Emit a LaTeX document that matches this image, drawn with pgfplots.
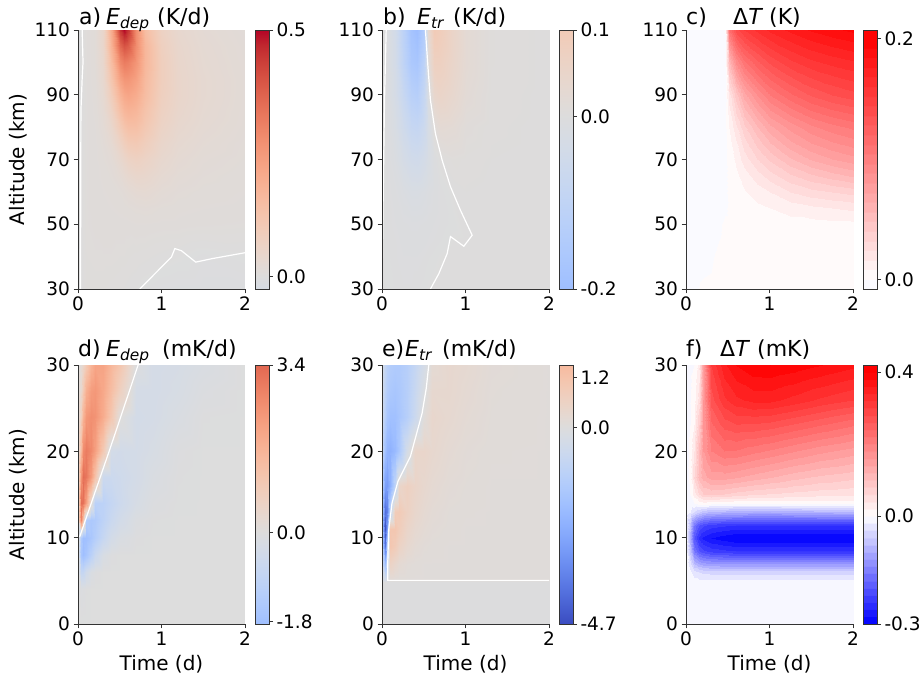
\documentclass[border=0pt]{standalone}
\usepackage{fontspec}
\setmainfont{DejaVu Sans}
\usepackage{pgfplots}
\pgfplotsset{compat=1.18}

\pgfplotsset{
 colormap={cwA}{rgb(475pt)=(0.840,0.861,0.894) rgb(500pt)=(0.865,0.865,0.865) rgb(531.25pt)=(0.898,0.849,0.821) rgb(562.5pt)=(0.924,0.827,0.775) rgb(593.75pt)=(0.944,0.801,0.727) rgb(625pt)=(0.959,0.770,0.678) rgb(656.25pt)=(0.967,0.734,0.629) rgb(687.5pt)=(0.970,0.694,0.579) rgb(718.75pt)=(0.967,0.650,0.530) rgb(750pt)=(0.958,0.603,0.482) rgb(781.25pt)=(0.944,0.552,0.434) rgb(812.5pt)=(0.924,0.497,0.388) rgb(843.75pt)=(0.899,0.440,0.343) rgb(875pt)=(0.869,0.378,0.300) rgb(906.25pt)=(0.835,0.313,0.259) rgb(937.5pt)=(0.796,0.241,0.221) rgb(968.75pt)=(0.753,0.157,0.184) rgb(1000pt)=(0.706,0.016,0.150)},
 colormap={cwB}{rgb(300pt)=(0.622,0.746,0.999) rgb(312.5pt)=(0.639,0.760,0.998) rgb(343.75pt)=(0.681,0.789,0.990) rgb(375pt)=(0.722,0.814,0.977) rgb(406.25pt)=(0.761,0.834,0.957) rgb(437.5pt)=(0.799,0.850,0.932) rgb(468.75pt)=(0.833,0.860,0.901) rgb(500pt)=(0.865,0.865,0.865) rgb(531.25pt)=(0.898,0.849,0.821) rgb(562.5pt)=(0.924,0.827,0.775) rgb(593.75pt)=(0.944,0.801,0.727) rgb(600pt)=(0.947,0.795,0.717)},
 colormap={cwD}{rgb(303.2pt)=(0.626,0.750,0.999) rgb(312.5pt)=(0.639,0.760,0.998) rgb(343.75pt)=(0.681,0.789,0.990) rgb(375pt)=(0.722,0.814,0.977) rgb(406.25pt)=(0.761,0.834,0.957) rgb(437.5pt)=(0.799,0.850,0.932) rgb(468.75pt)=(0.833,0.860,0.901) rgb(500pt)=(0.865,0.865,0.865) rgb(531.25pt)=(0.898,0.849,0.821) rgb(562.5pt)=(0.924,0.827,0.775) rgb(593.75pt)=(0.944,0.801,0.727) rgb(625pt)=(0.959,0.770,0.678) rgb(656.25pt)=(0.967,0.734,0.629) rgb(687.5pt)=(0.970,0.694,0.579) rgb(718.75pt)=(0.967,0.650,0.530) rgb(750pt)=(0.958,0.603,0.482) rgb(781.25pt)=(0.944,0.552,0.434) rgb(812.5pt)=(0.924,0.497,0.388) rgb(843.75pt)=(0.899,0.440,0.343) rgb(861.7pt)=(0.882,0.404,0.318)},
 colormap={cwE}{rgb(0pt)=(0.230,0.299,0.754) rgb(31.25pt)=(0.266,0.353,0.801) rgb(62.5pt)=(0.304,0.407,0.845) rgb(93.75pt)=(0.343,0.459,0.884) rgb(125pt)=(0.383,0.509,0.917) rgb(156.25pt)=(0.424,0.558,0.946) rgb(187.5pt)=(0.467,0.605,0.968) rgb(218.75pt)=(0.510,0.648,0.985) rgb(250pt)=(0.553,0.689,0.995) rgb(281.25pt)=(0.596,0.726,1.000) rgb(312.5pt)=(0.639,0.760,0.998) rgb(343.75pt)=(0.681,0.789,0.990) rgb(375pt)=(0.722,0.814,0.977) rgb(406.25pt)=(0.761,0.834,0.957) rgb(437.5pt)=(0.799,0.850,0.932) rgb(468.75pt)=(0.833,0.860,0.901) rgb(500pt)=(0.865,0.865,0.865) rgb(531.25pt)=(0.898,0.849,0.821) rgb(562.5pt)=(0.924,0.827,0.775) rgb(593.75pt)=(0.944,0.801,0.727) rgb(625pt)=(0.959,0.770,0.678) rgb(656.25pt)=(0.967,0.734,0.629) rgb(659.6pt)=(0.968,0.730,0.623)},
 colormap={bwrC}{rgb(0pt)=(0.98,0.98,1) rgb(7.99pt)=(0.98,0.98,1)
  rgb(8pt)=(1,0.98,0.98) rgb(15.99pt)=(1,0.98,0.98) rgb(16pt)=(1,0.94,0.94) rgb(23.99pt)=(1,0.94,0.94)
  rgb(24pt)=(1,0.90,0.90) rgb(31.99pt)=(1,0.90,0.90) rgb(32pt)=(1,0.86,0.86) rgb(39.99pt)=(1,0.86,0.86)
  rgb(40pt)=(1,0.82,0.82) rgb(47.99pt)=(1,0.82,0.82) rgb(48pt)=(1,0.78,0.78) rgb(55.99pt)=(1,0.78,0.78)
  rgb(56pt)=(1,0.74,0.74) rgb(63.99pt)=(1,0.74,0.74) rgb(64pt)=(1,0.70,0.70) rgb(71.99pt)=(1,0.70,0.70)
  rgb(72pt)=(1,0.66,0.66) rgb(79.99pt)=(1,0.66,0.66) rgb(80pt)=(1,0.62,0.62) rgb(87.99pt)=(1,0.62,0.62)
  rgb(88pt)=(1,0.58,0.58) rgb(95.99pt)=(1,0.58,0.58) rgb(96pt)=(1,0.54,0.54) rgb(103.99pt)=(1,0.54,0.54)
  rgb(104pt)=(1,0.50,0.50) rgb(111.99pt)=(1,0.50,0.50) rgb(112pt)=(1,0.46,0.46) rgb(119.99pt)=(1,0.46,0.46)
  rgb(120pt)=(1,0.42,0.42) rgb(127.99pt)=(1,0.42,0.42) rgb(128pt)=(1,0.38,0.38) rgb(135.99pt)=(1,0.38,0.38)
  rgb(136pt)=(1,0.34,0.34) rgb(143.99pt)=(1,0.34,0.34) rgb(144pt)=(1,0.30,0.30) rgb(151.99pt)=(1,0.30,0.30)
  rgb(152pt)=(1,0.26,0.26) rgb(159.99pt)=(1,0.26,0.26) rgb(160pt)=(1,0.22,0.22) rgb(167.99pt)=(1,0.22,0.22)
  rgb(168pt)=(1,0.18,0.18) rgb(175.99pt)=(1,0.18,0.18) rgb(176pt)=(1,0.14,0.14) rgb(183.99pt)=(1,0.14,0.14)
  rgb(184pt)=(1,0.10,0.10) rgb(191.99pt)=(1,0.10,0.10) rgb(192pt)=(1,0.06,0.06) rgb(199.99pt)=(1,0.06,0.06)
  rgb(200pt)=(1,0.02,0.02) rgb(215pt)=(1,0.02,0.02)},
 colormap={bwrF}{rgb(0pt)=(0.033,0.033,1) rgb(19.99pt)=(0.033,0.033,1) rgb(20pt)=(0.100,0.100,1) rgb(39.99pt)=(0.100,0.100,1)
  rgb(40pt)=(0.167,0.167,1) rgb(59.99pt)=(0.167,0.167,1) rgb(60pt)=(0.233,0.233,1) rgb(79.99pt)=(0.233,0.233,1)
  rgb(80pt)=(0.300,0.300,1) rgb(99.99pt)=(0.300,0.300,1) rgb(100pt)=(0.367,0.367,1) rgb(119.99pt)=(0.367,0.367,1)
  rgb(120pt)=(0.433,0.433,1) rgb(139.99pt)=(0.433,0.433,1) rgb(140pt)=(0.500,0.500,1) rgb(159.99pt)=(0.500,0.500,1)
  rgb(160pt)=(0.567,0.567,1) rgb(179.99pt)=(0.567,0.567,1) rgb(180pt)=(0.633,0.633,1) rgb(199.99pt)=(0.633,0.633,1)
  rgb(200pt)=(0.700,0.700,1) rgb(219.99pt)=(0.700,0.700,1) rgb(220pt)=(0.767,0.767,1) rgb(239.99pt)=(0.767,0.767,1)
  rgb(240pt)=(0.833,0.833,1) rgb(259.99pt)=(0.833,0.833,1) rgb(260pt)=(0.900,0.900,1) rgb(279.99pt)=(0.900,0.900,1)
  rgb(280pt)=(0.967,0.967,1) rgb(299.99pt)=(0.967,0.967,1)
  rgb(300pt)=(1,0.975,0.975) rgb(319.99pt)=(1,0.975,0.975) rgb(320pt)=(1,0.925,0.925) rgb(339.99pt)=(1,0.925,0.925)
  rgb(340pt)=(1,0.875,0.875) rgb(359.99pt)=(1,0.875,0.875) rgb(360pt)=(1,0.825,0.825) rgb(379.99pt)=(1,0.825,0.825)
  rgb(380pt)=(1,0.775,0.775) rgb(399.99pt)=(1,0.775,0.775) rgb(400pt)=(1,0.725,0.725) rgb(419.99pt)=(1,0.725,0.725)
  rgb(420pt)=(1,0.675,0.675) rgb(439.99pt)=(1,0.675,0.675) rgb(440pt)=(1,0.625,0.625) rgb(459.99pt)=(1,0.625,0.625)
  rgb(460pt)=(1,0.575,0.575) rgb(479.99pt)=(1,0.575,0.575) rgb(480pt)=(1,0.525,0.525) rgb(499.99pt)=(1,0.525,0.525)
  rgb(500pt)=(1,0.475,0.475) rgb(519.99pt)=(1,0.475,0.475) rgb(520pt)=(1,0.425,0.425) rgb(539.99pt)=(1,0.425,0.425)
  rgb(540pt)=(1,0.375,0.375) rgb(559.99pt)=(1,0.375,0.375) rgb(560pt)=(1,0.325,0.325) rgb(579.99pt)=(1,0.325,0.325)
  rgb(580pt)=(1,0.275,0.275) rgb(599.99pt)=(1,0.275,0.275) rgb(600pt)=(1,0.225,0.225) rgb(619.99pt)=(1,0.225,0.225)
  rgb(620pt)=(1,0.175,0.175) rgb(639.99pt)=(1,0.175,0.175) rgb(640pt)=(1,0.125,0.125) rgb(659.99pt)=(1,0.125,0.125)
  rgb(660pt)=(1,0.075,0.075) rgb(679.99pt)=(1,0.075,0.075) rgb(680pt)=(1,0.025,0.025) rgb(699.99pt)=(1,0.025,0.025)
  rgb(700pt)=(1,0,0) rgb(720pt)=(1,0,0)},
}

\pgfplotsset{
 panel/.style={
  scale only axis, width=167pt, height=259pt,
  xmin=0, xmax=2, xtick={0,1,2},
  axis x line*=bottom, axis y line*=left,
  tick align=outside, major tick length=4.5pt,
  xtick pos=left, ytick pos=left,
  ticklabel style={font=\fontsize{18.5}{22}\selectfont},
  /pgf/number format/assume math mode=true,
  axis line style={black!80, line width=0.8pt},
  every tick/.style={black!80, line width=0.8pt},
  axis on top,
  colorbar,
  colorbar shift/.style={xshift=10.5pt},
  colorbar style={
   at={(parent axis.north east)}, anchor=north west,
   scale only axis, width=13.5pt, height=259pt,
   axis x line=box, axis y line=box,
   tick align=outside, major tick length=4pt,
   ytick pos=right, yticklabel pos=right,
   yticklabel style={font=\fontsize{18.5}{22}\selectfont},
   /pgf/number format/assume math mode=true,
   axis line style={black!80, line width=0.8pt},
   every tick/.style={black!80, line width=0.8pt},
  },
 },
 xlab/.style={xlabel={Time (d)}, xlabel style={font=\fontsize{20}{24}\selectfont, at={(axis description cs:0.5,-0.1544)}, anchor=center}},
 ylab/.style={ylabel={Altitude (km)}, ylabel style={font=\fontsize{20}{24}\selectfont, at={(axis description cs:-0.356,0.5)}, anchor=center}},
 field/.style={surf, shader=interp, point meta=explicit},
 zline/.style={white, line width=1.2pt, no markers},
}

\newcommand{\sub}[1]{\raisebox{-4pt}{\fontsize{15.4}{16}\selectfont\itshape #1}}

\begin{document}
\begin{tikzpicture}

% ---------------- a ----------------
\begin{axis}[panel, ylab, at={(78pt,390pt)}, anchor=south west,
  ymin=30, ymax=110, ytick={30,50,70,90,110},
  colormap name=cwA, point meta min=-0.025, point meta max=0.5,
  colorbar style={ytick={0,0.5}, yticklabels={0.0,0.5}}]
\addplot[field, mesh/cols=14] coordinates {
(0,30)[-0.003] (0.1,30)[0.006] (0.2,30)[0.006] (0.3,30)[0.006] (0.4,30)[0.005] (0.5,30)[0.004] (0.55,30)[0.003] (0.6,30)[0.002] (0.7,30)[0.0005] (0.8,30)[-0.002] (1,30)[-0.004] (1.2,30)[-0.005] (1.5,30)[-0.005] (2,30)[-0.005]
(0,40)[-0.003] (0.1,40)[0.007] (0.2,40)[0.008] (0.3,40)[0.008] (0.4,40)[0.008] (0.5,40)[0.007] (0.55,40)[0.007] (0.6,40)[0.006] (0.7,40)[0.005] (0.8,40)[0.004] (1,40)[0.002] (1.2,40)[0.0005] (1.5,40)[-0.003] (2,40)[-0.001]
(0,50)[-0.003] (0.1,50)[0.008] (0.2,50)[0.009] (0.3,50)[0.01] (0.4,50)[0.01] (0.5,50)[0.01] (0.55,50)[0.01] (0.6,50)[0.01] (0.7,50)[0.011] (0.8,50)[0.011] (1,50)[0.01] (1.2,50)[0.01] (1.5,50)[0.009] (2,50)[0.008]
(0,55)[-0.003] (0.1,55)[0.008] (0.2,55)[0.01] (0.3,55)[0.01] (0.4,55)[0.011] (0.5,55)[0.012] (0.55,55)[0.013] (0.6,55)[0.014] (0.7,55)[0.016] (0.8,55)[0.017] (1,55)[0.014] (1.2,55)[0.012] (1.5,55)[0.011] (2,55)[0.01]
(0,60)[-0.003] (0.1,60)[0.008] (0.2,60)[0.01] (0.3,60)[0.011] (0.4,60)[0.012] (0.5,60)[0.015] (0.55,60)[0.018] (0.6,60)[0.022] (0.7,60)[0.027] (0.8,60)[0.029] (1,60)[0.021] (1.2,60)[0.016] (1.5,60)[0.013] (2,60)[0.011]
(0,65)[-0.003] (0.1,65)[0.008] (0.2,65)[0.01] (0.3,65)[0.012] (0.4,65)[0.015] (0.5,65)[0.024] (0.55,65)[0.031] (0.6,65)[0.038] (0.7,65)[0.046] (0.8,65)[0.044] (1,65)[0.03] (1.2,65)[0.021] (1.5,65)[0.016] (2,65)[0.012]
(0,70)[-0.003] (0.1,70)[0.008] (0.2,70)[0.01] (0.3,70)[0.014] (0.4,70)[0.02] (0.5,70)[0.04] (0.55,70)[0.052] (0.6,70)[0.064] (0.7,70)[0.072] (0.8,70)[0.062] (1,70)[0.04] (1.2,70)[0.027] (1.5,70)[0.019] (2,70)[0.014]
(0,75)[-0.004] (0.1,75)[0.008] (0.2,75)[0.01] (0.3,75)[0.017] (0.4,75)[0.03] (0.5,75)[0.065] (0.55,75)[0.085] (0.6,75)[0.1] (0.7,75)[0.105] (0.8,75)[0.085] (1,75)[0.05] (1.2,75)[0.033] (1.5,75)[0.023] (2,75)[0.015]
(0,80)[-0.004] (0.1,80)[0.008] (0.2,80)[0.011] (0.3,80)[0.022] (0.4,80)[0.045] (0.5,80)[0.1] (0.55,80)[0.125] (0.6,80)[0.14] (0.7,80)[0.14] (0.8,80)[0.11] (1,80)[0.062] (1.2,80)[0.04] (1.5,80)[0.027] (2,80)[0.017]
(0,85)[-0.004] (0.1,85)[0.008] (0.2,85)[0.012] (0.3,85)[0.027] (0.4,85)[0.065] (0.5,85)[0.14] (0.55,85)[0.17] (0.6,85)[0.18] (0.7,85)[0.17] (0.8,85)[0.13] (1,85)[0.072] (1.2,85)[0.046] (1.5,85)[0.03] (2,85)[0.018]
(0,90)[-0.005] (0.1,90)[0.008] (0.2,90)[0.013] (0.3,90)[0.033] (0.4,90)[0.09] (0.5,90)[0.18] (0.55,90)[0.21] (0.6,90)[0.22] (0.7,90)[0.2] (0.8,90)[0.15] (1,90)[0.08] (1.2,90)[0.05] (1.5,90)[0.032] (2,90)[0.019]
(0,95)[-0.005] (0.1,95)[0.008] (0.2,95)[0.014] (0.3,95)[0.04] (0.4,95)[0.12] (0.5,95)[0.23] (0.55,95)[0.26] (0.6,95)[0.26] (0.7,95)[0.23] (0.8,95)[0.16] (1,95)[0.085] (1.2,95)[0.05] (1.5,95)[0.032] (2,95)[0.019]
(0,100)[-0.005] (0.1,100)[0.008] (0.2,100)[0.015] (0.3,100)[0.045] (0.4,100)[0.15] (0.5,100)[0.29] (0.55,100)[0.32] (0.6,100)[0.31] (0.7,100)[0.26] (0.8,100)[0.17] (1,100)[0.085] (1.2,100)[0.048] (1.5,100)[0.03] (2,100)[0.018]
(0,105)[-0.005] (0.1,105)[0.008] (0.2,105)[0.015] (0.3,105)[0.05] (0.4,105)[0.18] (0.5,105)[0.36] (0.55,105)[0.40] (0.6,105)[0.38] (0.7,105)[0.28] (0.8,105)[0.17] (1,105)[0.08] (1.2,105)[0.045] (1.5,105)[0.028] (2,105)[0.017]
(0,110)[-0.005] (0.1,110)[0.008] (0.2,110)[0.015] (0.3,110)[0.05] (0.4,110)[0.2] (0.5,110)[0.45] (0.55,110)[0.50] (0.6,110)[0.45] (0.7,110)[0.28] (0.8,110)[0.15] (1,110)[0.07] (1.2,110)[0.04] (1.5,110)[0.025] (2,110)[0.015]
};
\addplot[zline] coordinates {(0.05,110) (0.06,100) (0.05,95) (0.035,85) (0.03,30)};
\addplot[zline] coordinates {(0.74,30) (1.12,39.9) (1.16,42.5) (1.24,41.8) (1.41,38.3) (1.61,39.4) (2,41.2)};
\end{axis}

% ---------------- b ----------------
\begin{axis}[panel, at={(382pt,390pt)}, anchor=south west,
  ymin=30, ymax=110, ytick={30,50,70,90,110},
  colormap name=cwB, point meta min=-0.2, point meta max=0.1,
  colorbar style={ytick={-0.2,0,0.1}, yticklabels={-0.2,0.0,0.1}}]
\addplot[field, mesh/cols=14] coordinates {
(0,30)[0.001] (0.05,30)[-0.001] (0.15,30)[-0.002] (0.25,30)[-0.003] (0.35,30)[-0.003] (0.42,30)[-0.002] (0.5,30)[-0.001] (0.55,30)[0.0003] (0.62,30)[0.001] (0.7,30)[0.002] (0.85,30)[0.002] (1,30)[0.002] (1.3,30)[0.001] (2,30)[0.001]
(0,40)[0.001] (0.05,40)[-0.001] (0.15,40)[-0.003] (0.25,40)[-0.004] (0.35,40)[-0.004] (0.42,40)[-0.004] (0.5,40)[-0.003] (0.55,40)[-0.002] (0.62,40)[-0.001] (0.7,40)[0.0002] (0.85,40)[0.002] (1,40)[0.002] (1.3,40)[0.002] (2,40)[0.001]
(0,45)[0.001] (0.05,45)[-0.002] (0.15,45)[-0.003] (0.25,45)[-0.005] (0.35,45)[-0.006] (0.42,45)[-0.006] (0.5,45)[-0.005] (0.55,45)[-0.004] (0.62,45)[-0.003] (0.7,45)[-0.002] (0.85,45)[0.0005] (1,45)[0.001] (1.3,45)[0.002] (2,45)[0.001]
(0,50)[0.001] (0.05,50)[-0.002] (0.15,50)[-0.004] (0.25,50)[-0.006] (0.35,50)[-0.007] (0.42,50)[-0.007] (0.5,50)[-0.006] (0.55,50)[-0.005] (0.62,50)[-0.004] (0.7,50)[-0.003] (0.85,50)[-0.001] (1,50)[0.002] (1.3,50)[0.002] (2,50)[0.001]
(0,60)[0.002] (0.05,60)[-0.002] (0.15,60)[-0.006] (0.25,60)[-0.012] (0.35,60)[-0.018] (0.42,60)[-0.018] (0.5,60)[-0.014] (0.55,60)[-0.01] (0.62,60)[-0.006] (0.7,60)[-0.003] (0.85,60)[0.001] (1,60)[0.003] (1.3,60)[0.002] (2,60)[0.002]
(0,70)[0.002] (0.05,70)[-0.003] (0.15,70)[-0.012] (0.25,70)[-0.03] (0.35,70)[-0.045] (0.42,70)[-0.048] (0.5,70)[-0.035] (0.55,70)[-0.022] (0.62,70)[-0.006] (0.7,70)[0.002] (0.85,70)[0.007] (1,70)[0.005] (1.3,70)[0.003] (2,70)[0.002]
(0,80)[0.002] (0.05,80)[-0.003] (0.15,80)[-0.02] (0.25,80)[-0.05] (0.35,80)[-0.08] (0.42,80)[-0.085] (0.5,80)[-0.06] (0.55,80)[-0.025] (0.62,80)[0.01] (0.7,80)[0.025] (0.85,80)[0.022] (1,80)[0.01] (1.3,80)[0.004] (2,80)[0.002]
(0,90)[0.003] (0.05,90)[-0.004] (0.15,90)[-0.03] (0.25,90)[-0.075] (0.35,90)[-0.12] (0.42,90)[-0.13] (0.5,90)[-0.08] (0.55,90)[-0.015] (0.62,90)[0.045] (0.7,90)[0.055] (0.85,90)[0.04] (1,90)[0.02] (1.3,90)[0.005] (2,90)[0.002]
(0,100)[0.003] (0.05,100)[-0.004] (0.15,100)[-0.035] (0.25,100)[-0.1] (0.35,100)[-0.16] (0.42,100)[-0.17] (0.5,100)[-0.11] (0.55,100)[0.01] (0.62,100)[0.075] (0.7,100)[0.075] (0.85,100)[0.05] (1,100)[0.025] (1.3,100)[0.006] (2,100)[0.002]
(0,110)[0.003] (0.05,110)[-0.004] (0.15,110)[-0.04] (0.25,110)[-0.11] (0.35,110)[-0.18] (0.42,110)[-0.2] (0.5,110)[-0.14] (0.55,110)[0.03] (0.62,110)[0.1] (0.7,110)[0.09] (0.85,110)[0.055] (1,110)[0.025] (1.3,110)[0.006] (2,110)[0.002]
};
\addplot[zline] coordinates {(0.05,110) (0.03,88) (0.01,50) (0,30)};
\addplot[zline] coordinates {(0.52,110) (0.55,98.7) (0.58,88.4) (0.64,78) (0.72,69.8) (0.82,61.6) (0.94,54.3) (1.08,46.6) (0.98,43.2) (0.82,46.2) (0.78,40.9) (0.68,34.7) (0.58,30)};
\end{axis}

% ---------------- c ----------------
\begin{axis}[panel, at={(686pt,390pt)}, anchor=south west,
  ymin=30, ymax=110, ytick={30,50,70,90,110},
  colormap name=bwrC, point meta min=-0.008, point meta max=0.207,
  colorbar style={ytick={0,0.2}, yticklabels={0.0,0.2}}]
\addplot[field, mesh/cols=13] coordinates {
(0,30)[-0.003] (0.2,30)[0.001] (0.4,30)[0.002] (0.47,30)[0.002] (0.52,30)[0.002] (0.6,30)[0.002] (0.7,30)[0.002] (0.85,30)[0.002] (1,30)[0.002] (1.25,30)[0.002] (1.5,30)[0.002] (1.75,30)[0.002] (2,30)[0.002]
(0,40)[-0.004] (0.2,40)[-0.002] (0.4,40)[0.001] (0.47,40)[0.002] (0.52,40)[0.002] (0.6,40)[0.002] (0.7,40)[0.002] (0.85,40)[0.002] (1,40)[0.002] (1.25,40)[0.003] (1.5,40)[0.003] (1.75,40)[0.003] (2,40)[0.003]
(0,50)[-0.004] (0.2,50)[-0.004] (0.4,50)[-0.001] (0.47,50)[0.001] (0.52,50)[0.001] (0.6,50)[0.002] (0.7,50)[0.002] (0.85,50)[0.003] (1,50)[0.004] (1.25,50)[0.005] (1.5,50)[0.005] (1.75,50)[0.006] (2,50)[0.006]
(0,55)[-0.004] (0.2,55)[-0.004] (0.4,55)[-0.003] (0.47,55)[-0.001] (0.52,55)[0.001] (0.6,55)[0.003] (0.7,55)[0.004] (0.85,55)[0.006] (1,55)[0.008] (1.25,55)[0.011] (1.5,55)[0.014] (1.75,55)[0.016] (2,55)[0.018]
(0,60)[-0.004] (0.2,60)[-0.004] (0.4,60)[-0.004] (0.47,60)[-0.002] (0.52,60)[0.002] (0.6,60)[0.004] (0.7,60)[0.007] (0.85,60)[0.012] (1,60)[0.016] (1.25,60)[0.024] (1.5,60)[0.029] (1.75,60)[0.032] (2,60)[0.035]
(0,65)[-0.004] (0.2,65)[-0.004] (0.4,65)[-0.004] (0.47,65)[-0.002] (0.52,65)[0.002] (0.6,65)[0.006] (0.7,65)[0.012] (0.85,65)[0.02] (1,65)[0.028] (1.25,65)[0.038] (1.5,65)[0.046] (1.75,65)[0.052] (2,65)[0.057]
(0,70)[-0.004] (0.2,70)[-0.004] (0.4,70)[-0.004] (0.47,70)[-0.002] (0.52,70)[0.003] (0.6,70)[0.01] (0.7,70)[0.02] (0.85,70)[0.032] (1,70)[0.042] (1.25,70)[0.055] (1.5,70)[0.065] (1.75,70)[0.072] (2,70)[0.077]
(0,75)[-0.004] (0.2,75)[-0.004] (0.4,75)[-0.004] (0.47,75)[-0.002] (0.52,75)[0.005] (0.6,75)[0.015] (0.7,75)[0.028] (0.85,75)[0.043] (1,75)[0.056] (1.25,75)[0.07] (1.5,75)[0.08] (1.75,75)[0.087] (2,75)[0.092]
(0,80)[-0.004] (0.2,80)[-0.004] (0.4,80)[-0.004] (0.47,80)[-0.002] (0.52,80)[0.008] (0.6,80)[0.022] (0.7,80)[0.038] (0.85,80)[0.055] (1,80)[0.07] (1.25,80)[0.083] (1.5,80)[0.094] (1.75,80)[0.101] (2,80)[0.106]
(0,90)[-0.004] (0.2,90)[-0.004] (0.4,90)[-0.004] (0.47,90)[-0.002] (0.52,90)[0.02] (0.6,90)[0.045] (0.7,90)[0.068] (0.85,90)[0.088] (1,90)[0.104] (1.25,90)[0.118] (1.5,90)[0.129] (1.75,90)[0.136] (2,90)[0.141]
(0,100)[-0.004] (0.2,100)[-0.004] (0.4,100)[-0.004] (0.47,100)[-0.002] (0.52,100)[0.055] (0.6,100)[0.09] (0.7,100)[0.11] (0.85,100)[0.126] (1,100)[0.138] (1.25,100)[0.15] (1.5,100)[0.158] (1.75,100)[0.163] (2,100)[0.167]
(0,110)[-0.004] (0.2,110)[-0.004] (0.4,110)[-0.004] (0.47,110)[0.0] (0.52,110)[0.11] (0.6,110)[0.14] (0.7,110)[0.152] (0.85,110)[0.162] (1,110)[0.17] (1.25,110)[0.178] (1.5,110)[0.185] (1.75,110)[0.19] (2,110)[0.194]
};
\end{axis}

% ---------------- d ----------------
\begin{axis}[panel, ylab, xlab, at={(78pt,55pt)}, anchor=south west,
  ymin=0, ymax=30, ytick={0,10,20,30},
  colormap name=cwD, point meta min=-1.85, point meta max=3.4,
  colorbar style={ytick={-1.8,0,3.4}, yticklabels={-1.8,0.0,3.4}}]
\addplot[field, mesh/cols=14] coordinates {
(0,0)[0] (0.03,0)[0] (0.06,0)[0] (0.1,0)[0] (0.15,0)[0] (0.2,0)[0] (0.3,0)[0] (0.4,0)[0] (0.5,0)[0] (0.7,0)[0] (0.9,0)[0] (1.2,0)[0] (1.5,0)[0] (2,0)[0]
(0,4)[0] (0.03,4)[-0.08] (0.06,4)[-0.06] (0.1,4)[-0.02] (0.15,4)[0] (0.2,4)[0] (0.3,4)[0] (0.4,4)[0] (0.5,4)[0] (0.7,4)[0] (0.9,4)[0] (1.2,4)[0] (1.5,4)[0] (2,4)[0]
(0,6)[0] (0.03,6)[-0.8] (0.06,6)[-0.8] (0.1,6)[-0.45] (0.15,6)[-0.15] (0.2,6)[-0.05] (0.3,6)[0] (0.4,6)[0] (0.5,6)[0] (0.7,6)[0] (0.9,6)[0] (1.2,6)[0] (1.5,6)[0] (2,6)[0]
(0,8)[0] (0.03,8)[-1.6] (0.06,8)[-1.85] (0.1,8)[-1.6] (0.15,8)[-1.1] (0.2,8)[-0.65] (0.3,8)[-0.2] (0.4,8)[-0.04] (0.5,8)[0] (0.7,8)[0] (0.9,8)[0] (1.2,8)[0] (1.5,8)[0] (2,8)[0]
(0,10)[0.2] (0.03,10)[-1.4] (0.06,10)[-1.85] (0.1,10)[-1.8] (0.15,10)[-1.55] (0.2,10)[-1.25] (0.3,10)[-0.75] (0.4,10)[-0.35] (0.5,10)[-0.15] (0.7,10)[-0.03] (0.9,10)[0] (1.2,10)[0] (1.5,10)[0] (2,10)[0]
(0,12)[0.5] (0.03,12)[2.8] (0.06,12)[1.2] (0.1,12)[-1.3] (0.15,12)[-1.5] (0.2,12)[-1.4] (0.3,12)[-1.0] (0.4,12)[-0.65] (0.5,12)[-0.38] (0.7,12)[-0.1] (0.9,12)[-0.02] (1.2,12)[0] (1.5,12)[0] (2,12)[0]
(0,14)[0.4] (0.03,14)[3.3] (0.06,14)[3.2] (0.1,14)[2.2] (0.15,14)[0.3] (0.2,14)[-1.1] (0.3,14)[-1.05] (0.4,14)[-0.8] (0.5,14)[-0.55] (0.7,14)[-0.25] (0.9,14)[-0.07] (1.2,14)[-0.01] (1.5,14)[0] (2,14)[0]
(0,17)[0.3] (0.03,17)[2.5] (0.06,17)[3.3] (0.1,17)[3.1] (0.15,17)[2.3] (0.2,17)[1.2] (0.3,17)[-0.6] (0.4,17)[-0.6] (0.5,17)[-0.5] (0.7,17)[-0.33] (0.9,17)[-0.14] (1.2,17)[-0.02] (1.5,17)[0] (2,17)[0]
(0,20)[0.2] (0.03,20)[1.5] (0.06,20)[2.7] (0.1,20)[3.0] (0.15,20)[2.7] (0.2,20)[2.2] (0.3,20)[1.0] (0.4,20)[-0.35] (0.5,20)[-0.4] (0.7,20)[-0.33] (0.9,20)[-0.22] (1.2,20)[-0.04] (1.5,20)[0] (2,20)[0]
(0,24)[0.1] (0.03,24)[0.8] (0.06,24)[1.7] (0.1,24)[2.4] (0.15,24)[2.6] (0.2,24)[2.5] (0.3,24)[1.9] (0.4,24)[1.1] (0.5,24)[0.05] (0.7,24)[-0.35] (0.9,24)[-0.3] (1.2,24)[-0.15] (1.5,24)[-0.02] (2,24)[0]
(0,27)[0.08] (0.03,27)[0.4] (0.06,27)[1.0] (0.1,27)[1.8] (0.15,27)[2.3] (0.2,27)[2.4] (0.3,27)[2.0] (0.4,27)[1.4] (0.5,27)[0.7] (0.7,27)[-0.3] (0.9,27)[-0.32] (1.2,27)[-0.22] (1.5,27)[-0.08] (2,27)[0]
(0,30)[0.05] (0.03,30)[0.2] (0.06,30)[0.5] (0.1,30)[1.0] (0.15,30)[1.7] (0.2,30)[2.1] (0.3,30)[2.1] (0.4,30)[1.6] (0.5,30)[1.1] (0.7,30)[-0.05] (0.9,30)[-0.32] (1.2,30)[-0.26] (1.5,30)[-0.15] (2,30)[0]
};
\addplot[zline] coordinates {(0.02,10.1) (0.38,20.2) (0.72,30)};
\end{axis}

% ---------------- e ----------------
\begin{axis}[panel, xlab, at={(382pt,55pt)}, anchor=south west,
  ymin=0, ymax=30, ytick={0,10,20,30},
  colormap name=cwE, point meta min=-4.7, point meta max=1.5,
  colorbar style={ytick={-4.7,0,1.2}, yticklabels={-4.7,0.0,1.2}}]
\addplot[field, mesh/cols=14] coordinates {
(0,0)[-0.02] (0.03,0)[-0.02] (0.06,0)[-0.02] (0.1,0)[-0.02] (0.15,0)[-0.02] (0.2,0)[-0.02] (0.3,0)[-0.02] (0.4,0)[-0.02] (0.5,0)[-0.02] (0.6,0)[-0.02] (0.8,0)[-0.02] (1,0)[-0.02] (1.3,0)[-0.02] (2,0)[-0.02]
(0,4.9)[-0.02] (0.03,4.9)[-0.02] (0.06,4.9)[-0.02] (0.1,4.9)[-0.02] (0.15,4.9)[-0.02] (0.2,4.9)[-0.02] (0.3,4.9)[-0.02] (0.4,4.9)[-0.02] (0.5,4.9)[-0.02] (0.6,4.9)[-0.02] (0.8,4.9)[-0.02] (1,4.9)[-0.02] (1.3,4.9)[-0.02] (2,4.9)[-0.02]
(0,5.1)[-0.2] (0.03,5.1)[-0.3] (0.06,5.1)[-0.05] (0.1,5.1)[0.15] (0.15,5.1)[0.12] (0.2,5.1)[0.1] (0.3,5.1)[0.1] (0.4,5.1)[0.1] (0.5,5.1)[0.1] (0.6,5.1)[0.1] (0.8,5.1)[0.1] (1,5.1)[0.1] (1.3,5.1)[0.1] (2,5.1)[0.1]
(0,7)[-0.6] (0.03,7)[-1.8] (0.06,7)[-0.4] (0.1,7)[0.6] (0.15,7)[0.4] (0.2,7)[0.25] (0.3,7)[0.15] (0.4,7)[0.12] (0.5,7)[0.1] (0.6,7)[0.1] (0.8,7)[0.1] (1,7)[0.1] (1.3,7)[0.1] (2,7)[0.1]
(0,9)[-1.2] (0.03,9)[-3.8] (0.06,9)[-1.2] (0.1,9)[1.1] (0.15,9)[0.9] (0.2,9)[0.6] (0.3,9)[0.35] (0.4,9)[0.22] (0.5,9)[0.15] (0.6,9)[0.12] (0.8,9)[0.1] (1,9)[0.1] (1.3,9)[0.1] (2,9)[0.1]
(0,11)[-1.5] (0.03,11)[-4.6] (0.06,11)[-2.8] (0.1,11)[1.1] (0.15,11)[1.1] (0.2,11)[0.85] (0.3,11)[0.5] (0.4,11)[0.32] (0.5,11)[0.22] (0.6,11)[0.16] (0.8,11)[0.12] (1,11)[0.1] (1.3,11)[0.1] (2,11)[0.1]
(0,13)[-1.4] (0.03,13)[-4.0] (0.06,13)[-3.6] (0.1,13)[-0.9] (0.15,13)[0.9] (0.2,13)[0.95] (0.3,13)[0.65] (0.4,13)[0.42] (0.5,13)[0.28] (0.6,13)[0.2] (0.8,13)[0.13] (1,13)[0.11] (1.3,13)[0.1] (2,13)[0.1]
(0,16)[-1.1] (0.03,16)[-2.8] (0.06,16)[-2.9] (0.1,16)[-2.3] (0.15,16)[-0.9] (0.2,16)[0.5] (0.3,16)[0.7] (0.4,16)[0.52] (0.5,16)[0.37] (0.6,16)[0.27] (0.8,16)[0.17] (1,16)[0.13] (1.3,16)[0.1] (2,16)[0.1]
(0,20)[-0.8] (0.03,20)[-1.8] (0.06,20)[-2.2] (0.1,20)[-2.3] (0.15,20)[-2.0] (0.2,20)[-1.5] (0.3,20)[-0.3] (0.4,20)[0.45] (0.5,20)[0.47] (0.6,20)[0.37] (0.8,20)[0.24] (1,20)[0.16] (1.3,20)[0.11] (2,20)[0.1]
(0,24)[-0.5] (0.03,24)[-1.2] (0.06,24)[-1.6] (0.1,24)[-1.8] (0.15,24)[-1.8] (0.2,24)[-1.6] (0.3,24)[-1.2] (0.4,24)[-0.6] (0.5,24)[0.1] (0.6,24)[0.42] (0.8,24)[0.32] (1,24)[0.22] (1.3,24)[0.13] (2,24)[0.1]
(0,27)[-0.4] (0.03,27)[-1.0] (0.06,27)[-1.3] (0.1,27)[-1.5] (0.15,27)[-1.6] (0.2,27)[-1.5] (0.3,27)[-1.2] (0.4,27)[-0.7] (0.5,27)[-0.1] (0.6,27)[0.35] (0.8,27)[0.36] (1,27)[0.26] (1.3,27)[0.14] (2,27)[0.1]
(0,30)[-0.3] (0.03,30)[-0.8] (0.06,30)[-1.1] (0.1,30)[-1.3] (0.15,30)[-1.4] (0.2,30)[-1.4] (0.3,30)[-1.2] (0.4,30)[-0.8] (0.5,30)[-0.3] (0.6,30)[0.25] (0.8,30)[0.37] (1,30)[0.3] (1.3,30)[0.16] (2,30)[0.1]
};
\addplot[zline] coordinates {(2,5.05) (0.07,5.05) (0.07,7.4) (0.08,10.9) (0.12,14) (0.19,16.5) (0.34,19.4) (0.48,24.4) (0.53,27.3) (0.56,30)};
\end{axis}

% ---------------- f ----------------
\begin{axis}[panel, xlab, at={(686pt,55pt)}, anchor=south west,
  ymin=0, ymax=30, ytick={0,10,20,30},
  colormap name=bwrF, point meta min=-0.3, point meta max=0.42,
  colorbar style={ytick={-0.3,0,0.4}, yticklabels={-0.3,0.0,0.4}}]
\addplot[field, mesh/cols=13] coordinates {
(0,0)[-0.008] (0.05,0)[-0.01] (0.1,0)[-0.01] (0.15,0)[-0.01] (0.2,0)[-0.01] (0.3,0)[-0.01] (0.45,0)[-0.01] (0.6,0)[-0.01] (0.8,0)[-0.01] (1,0)[-0.01] (1.3,0)[-0.01] (1.6,0)[-0.01] (2,0)[-0.01]
(0,5)[-0.008] (0.05,5)[-0.012] (0.1,5)[-0.015] (0.15,5)[-0.015] (0.2,5)[-0.015] (0.3,5)[-0.015] (0.45,5)[-0.015] (0.6,5)[-0.015] (0.8,5)[-0.015] (1,5)[-0.015] (1.3,5)[-0.015] (1.6,5)[-0.015] (2,5)[-0.015]
(0,6)[-0.008] (0.05,6)[-0.015] (0.1,6)[-0.03] (0.15,6)[-0.04] (0.2,6)[-0.045] (0.3,6)[-0.048] (0.45,6)[-0.05] (0.6,6)[-0.05] (0.8,6)[-0.05] (1,6)[-0.05] (1.3,6)[-0.05] (1.6,6)[-0.05] (2,6)[-0.05]
(0,7)[-0.008] (0.05,7)[-0.03] (0.1,7)[-0.08] (0.15,7)[-0.1] (0.2,7)[-0.11] (0.3,7)[-0.115] (0.45,7)[-0.118] (0.6,7)[-0.12] (0.8,7)[-0.12] (1,7)[-0.12] (1.3,7)[-0.12] (1.6,7)[-0.12] (2,7)[-0.12]
(0,8.5)[-0.008] (0.05,8.5)[-0.07] (0.1,8.5)[-0.16] (0.15,8.5)[-0.2] (0.2,8.5)[-0.215] (0.3,8.5)[-0.228] (0.45,8.5)[-0.235] (0.6,8.5)[-0.24] (0.8,8.5)[-0.24] (1,8.5)[-0.24] (1.3,8.5)[-0.24] (1.6,8.5)[-0.24] (2,8.5)[-0.24]
(0,10)[-0.008] (0.05,10)[-0.09] (0.1,10)[-0.2] (0.15,10)[-0.245] (0.2,10)[-0.265] (0.3,10)[-0.28] (0.45,10)[-0.292] (0.6,10)[-0.3] (0.8,10)[-0.3] (1,10)[-0.3] (1.3,10)[-0.3] (1.6,10)[-0.3] (2,10)[-0.3]
(0,11.5)[-0.008] (0.05,11.5)[-0.07] (0.1,11.5)[-0.16] (0.15,11.5)[-0.2] (0.2,11.5)[-0.215] (0.3,11.5)[-0.228] (0.45,11.5)[-0.235] (0.6,11.5)[-0.24] (0.8,11.5)[-0.24] (1,11.5)[-0.24] (1.3,11.5)[-0.24] (1.6,11.5)[-0.24] (2,11.5)[-0.24]
(0,13)[-0.008] (0.05,13)[-0.02] (0.1,13)[-0.04] (0.15,13)[-0.06] (0.2,13)[-0.075] (0.3,13)[-0.085] (0.45,13)[-0.09] (0.6,13)[-0.095] (0.8,13)[-0.1] (1,13)[-0.1] (1.3,13)[-0.095] (1.6,13)[-0.09] (2,13)[-0.085]
(0,14)[-0.008] (0.05,14)[-0.005] (0.1,14)[0.0] (0.15,14)[0.01] (0.2,14)[0.015] (0.3,14)[0.01] (0.45,14)[0.005] (0.6,14)[0.003] (0.8,14)[0.003] (1,14)[0.004] (1.3,14)[0.006] (1.6,14)[0.008] (2,14)[0.01]
(0,15)[-0.008] (0.05,15)[0.0] (0.1,15)[0.03] (0.15,15)[0.06] (0.2,15)[0.08] (0.3,15)[0.085] (0.45,15)[0.08] (0.6,15)[0.072] (0.8,15)[0.064] (1,15)[0.059] (1.3,15)[0.053] (1.6,15)[0.048] (2,15)[0.044]
(0,17)[-0.008] (0.05,17)[0.005] (0.1,17)[0.06] (0.15,17)[0.11] (0.2,17)[0.13] (0.3,17)[0.15] (0.45,17)[0.15] (0.6,17)[0.143] (0.8,17)[0.132] (1,17)[0.122] (1.3,17)[0.107] (1.6,17)[0.096] (2,17)[0.086]
(0,20)[-0.008] (0.05,20)[0.005] (0.1,20)[0.04] (0.15,20)[0.11] (0.2,20)[0.16] (0.3,20)[0.2] (0.45,20)[0.22] (0.6,20)[0.218] (0.8,20)[0.207] (1,20)[0.197] (1.3,20)[0.181] (1.6,20)[0.166] (2,20)[0.151]
(0,23)[-0.008] (0.05,23)[0.0] (0.1,23)[0.02] (0.15,23)[0.08] (0.2,23)[0.16] (0.3,23)[0.235] (0.45,23)[0.268] (0.6,23)[0.278] (0.8,23)[0.277] (1,23)[0.271] (1.3,23)[0.256] (1.6,23)[0.241] (2,23)[0.222]
(0,26)[-0.008] (0.05,26)[-0.002] (0.1,26)[0.01] (0.15,26)[0.05] (0.2,26)[0.16] (0.3,26)[0.27] (0.45,26)[0.315] (0.6,26)[0.335] (0.8,26)[0.346] (1,26)[0.346] (1.3,26)[0.332] (1.6,26)[0.316] (2,26)[0.3]
(0,30)[-0.008] (0.05,30)[-0.004] (0.1,30)[0.0] (0.15,30)[0.03] (0.2,30)[0.15] (0.3,30)[0.3] (0.45,30)[0.355] (0.6,30)[0.38] (0.8,30)[0.397] (1,30)[0.4] (1.3,30)[0.392] (1.6,30)[0.381] (2,30)[0.366]
};
\end{axis}

% ---------------- titles ----------------
\begin{scope}[every node/.style={anchor=base west, inner sep=0pt, font=\fontsize{22}{26}\selectfont}]
\node at (79pt,654pt) {a)};
\node at (106pt,654pt) {\textit{E}\sub{dep}};
\node at (157pt,654pt) {(K/d)};
\node at (383pt,654pt) {b)};
\node at (417pt,654pt) {\textit{E}\sub{tr}};
\node at (453pt,654pt) {(K/d)};
\node at (686pt,654pt) {c)};
\node at (733pt,654pt) {Δ\textit{T}};
\node at (769pt,654pt) {(K)};
\node at (78pt,322pt) {d)};
\node at (106pt,322pt) {\textit{E}\sub{dep}};
\node at (162pt,322pt) {(mK/d)};
\node at (382pt,322pt) {e)};
\node at (405pt,322pt) {\textit{E}\sub{tr}};
\node at (442pt,322pt) {(mK/d)};
\node at (686pt,322pt) {f)};
\node at (720pt,322pt) {Δ\textit{T}};
\node at (757pt,322pt) {(mK)};
\end{scope}

\pgfresetboundingbox
\path (0pt,0pt) rectangle (923pt,679pt);
\end{tikzpicture}
\end{document}
